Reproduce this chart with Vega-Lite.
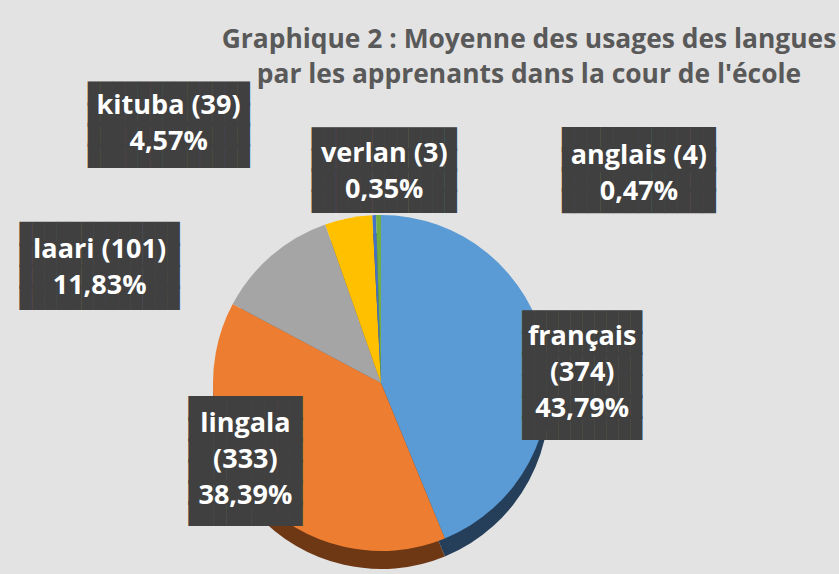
{
  "$schema": "https://vega.github.io/schema/vega-lite/v6.json",
  "width": 762,
  "height": 382,
  "autosize": "none",
  "padding": {"left": 0, "top": 192, "right": 77, "bottom": 0},
  "background": "#e3e3e3",
  "view": {"stroke": null},
  "title": {
    "text": ["Graphique 2 : Moyenne des usages des langues", "par les apprenants dans la cour de l'école"],
    "font": "Open Sans",
    "fontSize": 26.4,
    "fontWeight": "bold",
    "color": "#595959",
    "anchor": "middle",
    "frame": "group",
    "dx": 148,
    "dy": 9,
    "lineHeight": 35,
    "offset": 0
  },
  "data": {
    "values": [
      {"lang": "français", "count": 374, "label": "français\n(374)\n43,79%"},
      {"lang": "lingala", "count": 333, "label": "lingala\n(333)\n38,39%"},
      {"lang": "laari", "count": 101, "label": "laari (101)\n11,83%"},
      {"lang": "kituba", "count": 39, "label": "kituba (39)\n4,57%"},
      {"lang": "verlan", "count": 3, "label": "verlan (3)\n0,35%"},
      {"lang": "anglais", "count": 4, "label": "anglais (4)\n0,47%"}
    ]
  },
  "transform": [{"window": [{"op": "row_number", "as": "rank"}]}],
  "encoding": {
    "theta": {"field": "count", "type": "quantitative", "stack": true},
    "order": {"field": "rank", "type": "quantitative"},
    "detail": {"field": "lang", "type": "nominal"}
  },
  "layer": [
    {
      "mark": {"type": "arc", "radius": 168, "yOffset": 18},
      "encoding": {
        "color": {"field": "lang", "type": "nominal", "legend": null,
          "scale": {"domain": ["français", "lingala", "laari", "kituba", "verlan", "anglais"],
                    "range": ["#253f5a", "#6e3815", "#5e5e5e", "#8c6a00", "#25406e", "#3e6127"]}}
      }
    },
    {
      "mark": {"type": "arc", "radius": 168},
      "encoding": {
        "color": {"field": "lang", "type": "nominal", "legend": null,
          "scale": {"domain": ["français", "lingala", "laari", "kituba", "verlan", "anglais"],
                    "range": ["#5b9bd5", "#ed7d31", "#a5a5a5", "#ffc000", "#4472c4", "#70ad47"]}}
      }
    },
    {
      "mark": {"type": "text", "font": "DejaVu Sans Mono", "fontSize": 20.7, "lineHeight": 20.6, "color": "#404040",
               "text": ["█████████████", "█████████████", "█████████████", "█████████████"],
               "radius": 260, "dx": -162, "dy": -32.7},
      "encoding": {"opacity": {"condition": {"test": "datum.lang === 'kituba'", "value": 1}, "value": 0}}
    },
    {
      "mark": {"type": "text", "font": "DejaVu Sans Mono", "fontSize": 20.07, "lineHeight": 20.8, "color": "#404040",
               "text": ["████████████", "████████████", "████████████", "████████████"],
               "radius": 216, "dx": 12, "dy": -27.4},
      "encoding": {"opacity": {"condition": {"test": "datum.lang === 'verlan'", "value": 1}, "value": 0}}
    },
    {
      "mark": {"type": "text", "font": "DejaVu Sans Mono", "fontSize": 21.3, "lineHeight": 20.4, "color": "#404040",
               "text": ["████████████", "████████████", "████████████", "████████████"],
               "radius": 212, "dx": 261, "dy": -30.5},
      "encoding": {"opacity": {"condition": {"test": "datum.lang === 'anglais'", "value": 1}, "value": 0}}
    },
    {
      "mark": {"type": "text", "font": "DejaVu Sans Mono", "fontSize": 20.44, "lineHeight": 21.4, "color": "#404040",
               "text": ["█████████████", "█████████████", "█████████████", "█████████████"],
               "radius": 220, "dx": -138, "dy": 18.7},
      "encoding": {"opacity": {"condition": {"test": "datum.lang === 'laari'", "value": 1}, "value": 0}}
    },
    {
      "mark": {"type": "text", "font": "DejaVu Sans Mono", "fontSize": 19.93, "lineHeight": 21.3, "color": "#404040",
               "text": ["██████████", "██████████", "██████████", "██████████", "██████████", "██████████"],
               "radius": 200, "dx": 5, "dy": -21.5},
      "encoding": {"opacity": {"condition": {"test": "datum.lang === 'français'", "value": 1}, "value": 0}}
    },
    {
      "mark": {"type": "text", "font": "DejaVu Sans Mono", "fontSize": 21.04, "lineHeight": 21.1, "color": "#404040",
               "text": ["█████████", "█████████", "█████████", "█████████", "█████████", "█████████"],
               "radius": 160, "dx": -17, "dy": -80.6},
      "encoding": {"opacity": {"condition": {"test": "datum.lang === 'lingala'", "value": 1}, "value": 0}}
    },
    {
      "mark": {"type": "text", "font": "Open Sans", "fontWeight": "bold", "fontSize": 27, "lineHeight": 36, "lineBreak": "\n", "color": "white",
               "radius": 260, "dx": -162, "dy": -21.5},
      "encoding": {"text": {"field": "label"}, "opacity": {"condition": {"test": "datum.lang === 'kituba'", "value": 1}, "value": 0}}
    },
    {
      "mark": {"type": "text", "font": "Open Sans", "fontWeight": "bold", "fontSize": 27, "lineHeight": 36, "lineBreak": "\n", "color": "white",
               "radius": 216, "dx": 12, "dy": -13.6},
      "encoding": {"text": {"field": "label"}, "opacity": {"condition": {"test": "datum.lang === 'verlan'", "value": 1}, "value": 0}}
    },
    {
      "mark": {"type": "text", "font": "Open Sans", "fontWeight": "bold", "fontSize": 27, "lineHeight": 36, "lineBreak": "\n", "color": "white",
               "radius": 212, "dx": 261, "dy": -15.4},
      "encoding": {"text": {"field": "label"}, "opacity": {"condition": {"test": "datum.lang === 'anglais'", "value": 1}, "value": 0}}
    },
    {
      "mark": {"type": "text", "font": "Open Sans", "fontWeight": "bold", "fontSize": 27, "lineHeight": 36, "lineBreak": "\n", "color": "white",
               "radius": 220, "dx": -138, "dy": 33.4},
      "encoding": {"text": {"field": "label"}, "opacity": {"condition": {"test": "datum.lang === 'laari'", "value": 1}, "value": 0}}
    },
    {
      "mark": {"type": "text", "font": "Open Sans", "fontWeight": "bold", "fontSize": 27, "lineHeight": 36, "lineBreak": "\n", "color": "white",
               "radius": 200, "dx": 5, "dy": -7.2},
      "encoding": {"text": {"field": "label"}, "opacity": {"condition": {"test": "datum.lang === 'français'", "value": 1}, "value": 0}}
    },
    {
      "mark": {"type": "text", "font": "Open Sans", "fontWeight": "bold", "fontSize": 27, "lineHeight": 36, "lineBreak": "\n", "color": "white",
               "radius": 160, "dx": -17, "dy": -66},
      "encoding": {"text": {"field": "label"}, "opacity": {"condition": {"test": "datum.lang === 'lingala'", "value": 1}, "value": 0}}
    }
  ],
  "resolve": {"scale": {"color": "independent"}}
}
